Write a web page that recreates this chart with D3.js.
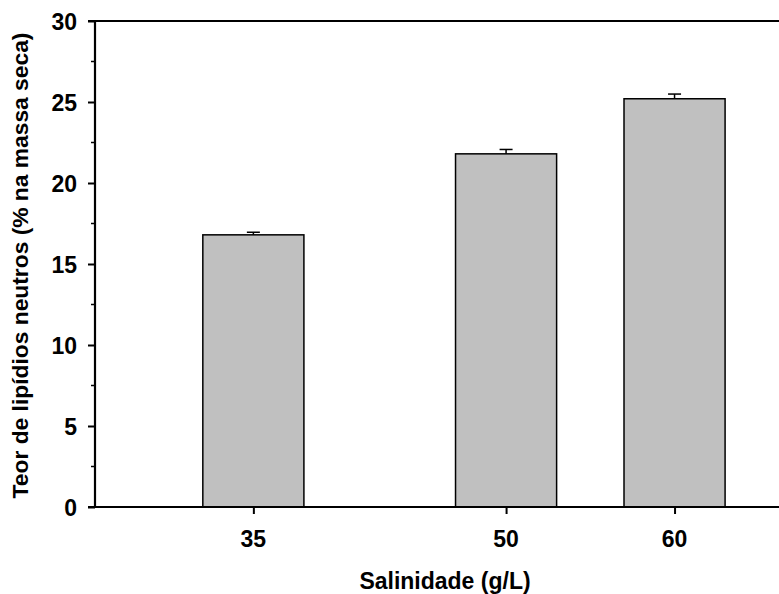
<!DOCTYPE html>
<html><head><meta charset="utf-8">
<script src="https://cdn.jsdelivr.net/npm/d3@7"></script>
<style>body{margin:0;background:#fff}svg{display:block}text{font-family:"Liberation Sans",Arial,sans-serif;font-weight:bold;fill:#000}</style>
</head><body><svg id="c" width="779" height="594"></svg>
<script>
const salinity = [35, 50, 60];
const lipids = [16.8, 21.8, 25.2];
const errors = [0.16, 0.27, 0.29];
const yTicks = [0, 5, 10, 15, 20, 25, 30];
const yMinor = [2.5, 7.5, 12.5, 17.5, 22.5, 27.5];
const xTitle = "Salinidade (g/L)";
const yTitle = "Teor de lipídios neutros (% na massa seca)";

const svg = d3.select("#c");
const x = d3.scaleLinear().domain([25.6, 66.2]).range([95, 779]);
const y = d3.scaleLinear().domain([0, 30]).range([507, 21]);
const barW = x(6) - x(0);

// bars
svg.selectAll("rect.bar").data(salinity).enter().append("rect")
  .attr("x", (d) => x(d) - barW / 2)
  .attr("y", (d, i) => y(lipids[i]))
  .attr("width", barW)
  .attr("height", (d, i) => y(0) - y(lipids[i]))
  .attr("fill", "#c0c0c0").attr("stroke", "#000").attr("stroke-width", 1.5);

// error bars
const eb = svg.selectAll("g.eb").data(salinity).enter().append("g");
eb.append("line").attr("x1", d => x(d)).attr("x2", d => x(d))
  .attr("y1", (d, i) => y(lipids[i])).attr("y2", (d, i) => y(lipids[i] + errors[i]))
  .attr("stroke", "#000").attr("stroke-width", 1.5);
eb.append("line").attr("x1", d => x(d) - 6.5).attr("x2", d => x(d) + 6.5)
  .attr("y1", (d, i) => y(lipids[i] + errors[i])).attr("y2", (d, i) => y(lipids[i] + errors[i]))
  .attr("stroke", "#000").attr("stroke-width", 1.5);

// axes lines
svg.append("line").attr("x1", 88).attr("x2", 779).attr("y1", y(0)).attr("y2", y(0)).attr("stroke", "#000").attr("stroke-width", 2.2);
svg.append("line").attr("x1", 88).attr("x2", 779).attr("y1", y(30)).attr("y2", y(30)).attr("stroke", "#000").attr("stroke-width", 2.2);
svg.append("line").attr("x1", 95).attr("x2", 95).attr("y1", y(30)).attr("y2", y(0)).attr("stroke", "#000").attr("stroke-width", 2.2);

// y ticks
const yAxis = d3.axisLeft(y).tickValues(yTicks).tickSize(7).tickPadding(0).tickFormat(() => "");
const ga = svg.append("g").attr("transform", "translate(95,0)").call(yAxis);
ga.select(".domain").remove();
ga.selectAll(".tick line").attr("stroke-width", 2);
svg.selectAll("line.ym").data(yMinor).enter().append("line")
  .attr("x1", 91).attr("x2", 95).attr("y1", d => y(d)).attr("y2", d => y(d))
  .attr("stroke", "#000").attr("stroke-width", 1.5);
svg.selectAll("text.yl").data(yTicks).enter().append("text")
  .attr("x", 77).attr("y", d => y(d) + 8.5)
  .attr("text-anchor", "end").attr("font-size", 23).text(d => d);

// x ticks
const xAxis = d3.axisBottom(x).tickValues(salinity).tickSize(7).tickFormat(() => "");
const gx = svg.append("g").attr("transform", `translate(0,${y(0)})`).call(xAxis);
gx.select(".domain").remove();
gx.selectAll(".tick line").attr("stroke-width", 2);
svg.selectAll("text.xl").data(salinity).enter().append("text")
  .attr("x", d => x(d)).attr("y", 547)
  .attr("text-anchor", "middle").attr("font-size", 23).text(d => d);

// titles
svg.append("text").attr("x", 445).attr("y", 589)
  .attr("text-anchor", "middle").attr("font-size", 23).text(xTitle);
svg.append("text").attr("transform", "translate(28,265.5) rotate(-90)")
  .attr("text-anchor", "middle").attr("font-size", 22.8).text(yTitle);
</script></body></html>
